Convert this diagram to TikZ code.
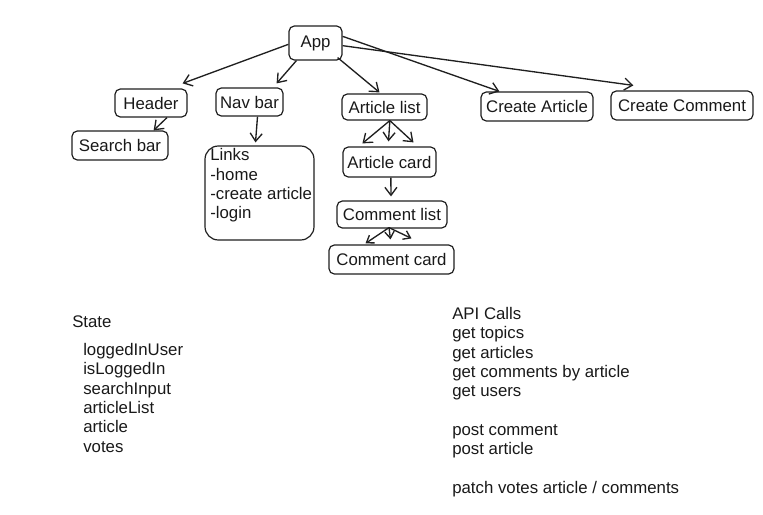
\documentclass[tikz,border=0pt]{standalone}
\usepackage{fontspec}
\setmainfont{Liberation Sans}
\usetikzlibrary{arrows.meta,calc}
\begin{document}
\begin{tikzpicture}[x=0.75pt,y=-0.75pt,
  every node/.style={font=\fontsize{12.6}{14.5}\selectfont, text=black!90},
  box/.style={draw=black!88, line width=0.9pt, rounded corners=4pt, inner sep=0pt},
  txt/.style={inner sep=0pt, align=left},
  conn/.style={draw=black!88, line width=1pt, -{Straight Barb[length=6pt,width=9pt]}},
  smallconn/.style={conn, -{Straight Barb[length=5pt,width=7pt]}}]
\useasboundingbox (0,0) rectangle (763,514);
% nodes
\node[box, minimum width=53*0.75pt, minimum height=34*0.75pt] (app) at (315.5,43) {App};
\node[box, minimum width=72*0.75pt, minimum height=28*0.75pt] (header) at (151,103) {Header};
\node[box, minimum width=67*0.75pt, minimum height=28*0.75pt] (navbar) at (249.5,102) {Nav bar};
\node[box, minimum width=85*0.75pt, minimum height=26*0.75pt] (artlist) at (384.5,107) {Article list};
\node[box, minimum width=112*0.75pt, minimum height=29*0.75pt] (createart) at (537,106.5) {Create Article};
\node[box, minimum width=142*0.75pt, minimum height=29*0.75pt] (createcom) at (682,105.5) {Create Comment};
\node[box, minimum width=96*0.75pt, minimum height=29*0.75pt] (search) at (120,145.5) {Search bar};
\node[box, rounded corners=10pt, minimum width=109*0.75pt, minimum height=94*0.75pt] (links) at (259.5,193) {};
\node[txt, anchor=north west] (linkstext) at (210,148.5) {Links\\-home\\-create article\\-login};
\node[box, minimum width=93*0.75pt, minimum height=30*0.75pt] (artcard) at (389.5,162) {Article card};
\node[box, minimum width=110*0.75pt, minimum height=27*0.75pt] (comlist) at (392,214.5) {Comment list};
\node[box, minimum width=125*0.75pt, minimum height=29*0.75pt] (comcard) at (391.5,259.5) {Comment card};
% texts
\node[txt, anchor=west] (state) at (72,322) {State};
\node[txt, anchor=north west] (statelist) at (83,343) {loggedInUser\\isLoggedIn\\searchInput\\articleList\\article\\votes};
\node[txt, anchor=north west] (api) at (452,307) {API Calls\\get topics\\get articles\\get comments by article\\get users\\[14.5pt]post comment\\post article\\[14.5pt]patch votes article / comments};
% connectors
\draw[conn] ([yshift=-1]app.west) -- ([shift={(-5,-5)}]header.north east);
\draw[conn] ([xshift=6]app.south west) -- ([shift={(-7,-4)}]navbar.north east);
\draw[conn] ([shift={(-5,-3)}]app.south east) -- ([shift={(-5,-1)}]artlist.north);
\draw[conn] ([yshift=5]app.east) -- ([shift={(19,0)}]createart.north west);
\draw[conn] ([yshift=-2]app.east) -- ([shift={(23,-5)}]createcom.north west);
\draw[conn] ([xshift=12]header.south) -- ([shift={(-15,0)}]search.north east);
\draw[conn] ([xshift=6]navbar.south) -- ([shift={(-4,-3)}]links.north);
\draw[conn] ([xshift=4]artlist.south) -- ([shift={(20,-3)}]artcard.north west);
\draw[conn] ([xshift=4]artlist.south) -- ([shift={(-1,-5)}]artcard.north);
\draw[conn] ([xshift=4]artlist.south) -- ([shift={(24,-4)}]artcard.north);
\draw[conn] ([xshift=1]artcard.south) -- ([shift={(-1,-4)}]comlist.north);
\draw[smallconn] ([shift={(-3,-1)}]comlist.south) -- ([shift={(-26,-1)}]comcard.north);
\draw[smallconn] ([shift={(-3,-1)}]comlist.south) -- ([shift={(-1,-5)}]comcard.north);
\draw[smallconn] ([shift={(-3,-1)}]comlist.south) -- ([shift={(20,-6)}]comcard.north);
\end{tikzpicture}
\end{document}
